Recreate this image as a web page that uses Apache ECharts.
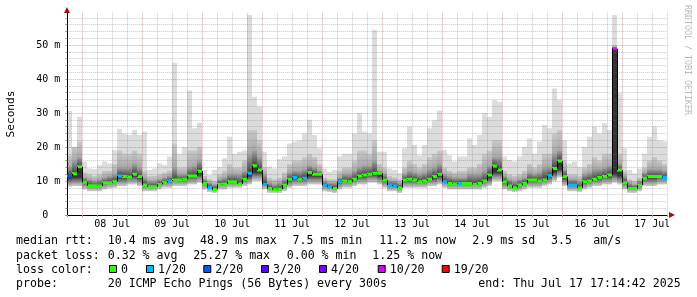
<!DOCTYPE html>
<html><head><meta charset="utf-8">
<script src="https://cdn.jsdelivr.net/npm/echarts@6/dist/echarts.min.js"></script>
<style>html,body{margin:0;padding:0;background:#fff}#c{width:697px;height:297px}</style>
</head><body><div id="c"></div>
<script>
// hours counted from Jul 7 00:00; one bin = 2 hours
const startHour = 18;
const binHours = 2;
const dayLabels = ['08 Jul','09 Jul','10 Jul','11 Jul','12 Jul','13 Jul','14 Jul','15 Jul','16 Jul','17 Jul'];
const yTickLabels = ['0  ','10 m','20 m','30 m','40 m','50 m'];

const medianRtt = [
  11.5, 12.1, 14.2,
  9.6, 8.6, 8.6, 8.5, 9.5, 9.5, 9.8, 11.5, 11.3, 11.2, 12.0, 11.3,
  8.8, 8.3, 8.3, 9.0, 9.6, 10.0, 10.3, 10.3, 10.5, 11.5, 11.5, 12.9,
  9.3, 8.1, 7.5, 9.0, 9.1, 9.8, 9.8, 9.1, 10.5, 12.3, 14.5, 13.2,
  9.0, 7.8, 7.4, 7.6, 8.8, 10.5, 11.0, 10.5, 10.8, 12.5, 12.0, 12.0,
  8.8, 8.3, 7.8, 9.8, 10.0, 9.8, 10.5, 11.5, 11.8, 12.0, 12.3, 12.3,
  10.3, 8.8, 8.5, 8.0, 10.3, 10.5, 10.3, 9.8, 10.0, 10.5, 11.3, 12.0,
  9.8, 9.3, 9.1, 9.3, 9.3, 9.3, 9.0, 9.3, 10.0, 11.8, 14.4, 13.2,
  9.8, 8.5, 8.0, 8.8, 9.3, 10.3, 10.3, 10.0, 10.3, 11.6, 13.7, 15.9,
  11.3, 8.8, 8.8, 8.0, 9.8, 10.0, 10.5, 11.0, 11.3, 11.8, 48.9, 13.2,
  9.5, 7.8, 7.8, 8.8, 10.8, 11.3, 11.3, 11.3, 11.0
];
const lossCount = [
  2, 0, 0,
  0, 0, 0, 0, 0, 0, 0, 1, 0, 0, 0, 0,
  0, 0, 0, 0, 0, 1, 0, 0, 0, 0, 0, 0,
  0, 1, 0, 0, 0, 0, 0, 0, 0, 1, 0, 0,
  1, 0, 0, 0, 0, 0, 1, 0, 1, 0, 0, 0,
  1, 1, 0, 1, 0, 0, 0, 0, 0, 0, 0, 0,
  0, 1, 1, 0, 0, 0, 0, 0, 0, 0, 0, 0,
  1, 0, 0, 1, 0, 0, 0, 0, 0, 0, 0, 0,
  0, 0, 0, 0, 0, 0, 0, 0, 0, 1, 0, 0,
  0, 1, 1, 0, 0, 0, 0, 0, 0, 0, 10, 0,
  0, 0, 0, 0, 0, 0, 0, 0, 1
];
const smokeLow = [
  8.3, 8.5, 8.5,
  7.5, 7, 7, 7, 7.5, 7.8, 8, 8.5, 8.5, 9, 9, 8.5,
  7, 7, 7, 7.5, 8, 8, 8.5, 8.5, 8.5, 9, 9, 9.5,
  7.5, 6.8, 6.5, 7.5, 7.5, 8, 8, 8, 8.5, 9, 10, 10,
  7.5, 6.5, 6.5, 6.5, 7, 8, 8.5, 8.5, 8.5, 9, 9, 9,
  7, 6.8, 6.5, 7.5, 8, 8, 8.5, 9, 9, 9.5, 9.5, 9,
  8, 7, 7, 6.5, 8, 8, 8, 8, 8, 8.5, 8.5, 9,
  8, 7.5, 7.5, 7.5, 7.5, 7.5, 7.5, 7.5, 8, 8.5, 10, 10,
  7.5, 7, 6.8, 7, 7.5, 8, 8, 8, 8.5, 9, 10, 11,
  8.5, 7, 7, 6.8, 7.5, 8, 8.5, 8.5, 9, 9, 9.5, 9,
  7.5, 6.5, 6.5, 7, 8.5, 8.5, 8.5, 9, 9
];
const smokeDark = [
  14.2, 16, 17,
  11, 10.5, 10, 10.5, 11, 11.5, 12, 14, 14, 14, 15, 14,
  11, 10, 10, 10.5, 11, 11.5, 14, 12, 12, 14, 14.5, 16,
  10.5, 9.5, 9, 10.5, 11, 12, 12, 12, 13, 18, 19, 17,
  12, 9.5, 9, 9.5, 10.5, 12.5, 13, 13, 13.5, 14.5, 14, 13,
  10, 9.5, 9.5, 11, 12, 12, 13, 14, 14.5, 14.5, 16, 13,
  12, 10, 10, 9.5, 12, 13, 12.5, 12, 12.5, 13.5, 14, 15,
  12, 11.5, 11, 11, 11, 12, 12, 12, 13, 14.5, 17, 17,
  11.5, 10.5, 10, 10.5, 11, 12.5, 12, 12.5, 14, 14, 18, 19,
  13.5, 10.5, 10.5, 10, 12, 12.5, 13.5, 13.5, 14, 14.5, 49.2, 15,
  11.5, 9.5, 9, 10, 12.5, 13.5, 13.5, 13.5, 13
];
const smokeMid = [
  17.6, 20, 21.6,
  12.5, 12, 11.5, 12, 13, 13, 15, 19, 18, 18, 19, 18,
  13, 11.5, 11.5, 12, 12.5, 13, 21, 14, 14, 19, 19, 20,
  11.5, 10.5, 10, 12, 13, 15, 14, 14, 16, 25, 25, 22,
  14, 11, 10.5, 11, 12.5, 15, 16, 16, 17, 18, 17, 15,
  11, 10.5, 10.5, 13, 14, 14, 16, 19, 19, 18, 22, 15,
  14, 11.5, 11, 10.5, 14, 16, 15, 14, 15, 17, 18, 19,
  14, 13, 12.5, 13, 13, 14, 14, 15, 18, 19, 22, 22,
  13, 12, 11.5, 12, 13, 15, 14, 15, 18, 18, 24, 25,
  16, 12, 12, 11.5, 14, 15, 17, 16, 18, 18, 50, 18,
  13, 10.5, 10, 11, 14, 16, 17, 16, 15
];
const smokeMax = [
  30.6, 18, 28.9,
  15.7, 13.7, 13.5, 14.7, 15.7, 15.2, 19.1, 25.3, 24, 23.5, 25, 23.5,
  24.5, 13.2, 13.7, 15.2, 14.7, 17.2, 44.8, 18, 20, 36.6, 25.5, 27.2,
  13.2, 11.8, 13.2, 14.2, 16.7, 23, 18, 18.6, 19, 58.8, 34.8, 31.9,
  18.6, 14.2, 13.7, 16.4, 17.2, 21, 21.6, 22, 24, 28, 23.5, 19.6,
  13.7, 12.7, 13.2, 17.2, 18, 18, 24, 29.9, 24.5, 24, 54.4, 18.6,
  18.6, 13.7, 13.2, 12.3, 19.6, 26, 20.6, 17.6, 20.6, 25.5, 27.9, 30.7,
  19.1, 17.6, 15.7, 17.2, 17.2, 22.5, 20.6, 23.5, 29.9, 28.9, 33.8, 33.3,
  17.2, 16.2, 15.7, 17.2, 20, 22.5, 18, 21.6, 26.5, 25.5, 37.2, 33.8,
  22, 15.2, 15.7, 14.2, 20, 23, 26, 24, 27, 25, 58.8, 35.8,
  19.6, 13.2, 12.3, 13.7, 18, 23, 26, 22, 21.6
];
const lossLevels = [0, 1, 2, 3, 4, 10, 19];
const lossLabels = ['0', '1/20', '2/20', '3/20', '4/20', '10/20', '19/20'];
const lossColors = ['#26ff00', '#00b8ff', '#0059ff', '#5e00ff', '#7e00ff', '#dd00ff', '#ff0000'];

const statLine1 = [['median rtt:',16],['10.4 ms avg',107.7],['48.9 ms max',200],['7.5 ms min',292.5],['11.2 ms now',379.3],['2.9 ms sd',472.3],['3.5',551],['am/s',593.3]];
const statLine2 = [['packet loss:',16],['0.32 % avg',107.7],['25.27 % max',193.3],['0.00 % min',286.7],['1.25 % now',372.3]];
const probeLine = [['probe:',16],['20 ICMP Echo Pings (56 Bytes) every 300s',107.7],['end: Thu Jul 17 17:14:42 2025',478.3]];
const swatchX = [109, 146, 203.3, 261, 319, 377.7, 441.7];

function lossColor(n){ let c = lossColors[0]; for (let k=0;k<lossLevels.length;k++){ if (n>=lossLevels[k]) c = lossColors[k]; } return c; }

const smokeData = medianRtt.map((m,i)=>[startHour+i*binHours, startHour+(i+1)*binHours, smokeLow[i], m, smokeDark[i], smokeMid[i], smokeMax[i]]);
const medianData = medianRtt.map((m,i)=>[startHour+i*binHours, startHour+(i+1)*binHours, m, i>0?medianRtt[i-1]:m, lossCount[i]]);

function grad(y1, y2, stops){
  if (Math.abs(y2-y1) < 0.5) y2 = y1 - 0.5;
  return {type:'linear', x:0, y:y1, x2:0, y2:y2, global:true, colorStops: stops.map(s=>({offset:s[0], color:s[1]}))};
}
function renderSmoke(params, api){
  const x0 = Math.round(api.coord([api.value(0),0])[0]);
  const x1 = Math.round(api.coord([api.value(1),0])[0]);
  const Y = v => api.coord([api.value(0), v])[1];
  const lo=Y(api.value(2)), me=Y(api.value(3)), dk=Y(api.value(4)), md=Y(api.value(5)), mx=Y(api.value(6));
  const w = x1-x0;
  const rect = (a,b,fill)=>({type:'rect', shape:{x:x0, y:Math.min(a,b), width:w, height:Math.abs(b-a)}, style:{fill:fill}});
  return {type:'group', children:[
    rect(mx, me, '#dcdcdc'),
    rect(md, me, grad(dk, md, [[0,'#a8a8a8'],[1,'#c8c8c8']])),
    rect(dk, me, grad(me, dk, [[0,'#404040'],[1,'#a4a4a4']])),
    rect(me, lo, grad(lo, lo-9, [[0,'#d0d0d0'],[0.5,'#909090'],[1,'#343434']]))
  ]};
}
function renderMedian(params, api){
  const x0 = Math.round(api.coord([api.value(0),0])[0]);
  const x1 = Math.round(api.coord([api.value(1),0])[0]);
  const Y = v => api.coord([api.value(0), v])[1];
  const ym = Y(api.value(2)), yp = Y(api.value(3));
  return {type:'group', children:[
    {type:'rect', shape:{x:x0, y:ym-1.5, width:x1-x0, height:3}, style:{fill: lossColor(api.value(4))}},
    {type:'line', shape:{x1:x0+0.5, y1:yp, x2:x0+0.5, y2:ym}, style:{stroke:'#000', lineWidth:1}}
  ]};
}

const mono = '"DejaVu Sans Mono", monospace';
const gfx = [];
gfx.push({type:'text', x:11, y:114, rotation:Math.PI/2, style:{text:'Seconds', font:'11.2px '+mono, fill:'#000', align:'center', verticalAlign:'middle'}});
gfx.push({type:'text', x:687, y:60, rotation:-Math.PI/2, style:{text:'RRDTOOL / TOBI OETIKER', font:'8.3px '+mono, fill:'#b8b8b8', align:'center', verticalAlign:'middle'}});
gfx.push({type:'polygon', shape:{points:[[67,7],[64,13],[70,13]]}, style:{fill:'#a01010'}});
gfx.push({type:'polygon', shape:{points:[[675,215],[669,212],[669,218]]}, style:{fill:'#a01010'}});
const addLine = (items, y) => items.forEach(t => gfx.push({type:'text', x:t[1], y:y, style:{text:t[0], font:'11.6px '+mono, fill:'#000', align:'left', verticalAlign:'middle'}}));
addLine(statLine1, 241);
addLine(statLine2, 255.5);
addLine([['loss color:',16]], 269.5);
lossLabels.forEach((l,k)=>{
  gfx.push({type:'rect', shape:{x:swatchX[k]+0.5, y:265.5, width:7, height:7}, style:{fill:lossColors[k], stroke:'#000', lineWidth:1}});
  gfx.push({type:'text', x:swatchX[k]+12, y:269.5, style:{text:l, font:'11.6px '+mono, fill:'#000', align:'left', verticalAlign:'middle'}});
});
addLine(probeLine, 283.7);

const gridGrey = 'rgba(120,120,120,0.42)';
const gridRed = 'rgba(230,40,40,0.45)';
const chart = echarts.init(document.getElementById('c'), null, {renderer:'canvas'});
chart.setOption({
  animation:false,
  backgroundColor:'#ffffff',
  grid:{left:67.3, right:29.7, top:12.7, bottom:82, containLabel:false},
  xAxis:{type:'value', min:18, max:258, interval:6, z:3,
    axisLine:{lineStyle:{color:'#000', width:1}},
    axisTick:{show:true, length:2, lineStyle:{color:'#999'}},
    axisLabel:{margin:4, color:'#000', fontFamily:'DejaVu Sans Mono', fontSize:10,
      formatter: v => ((v-12)%24===0 ? dayLabels[(v-36)/24] : '')},
    splitLine:{show:true, lineStyle:{color:[gridGrey, gridRed, gridGrey, gridGrey], type:[1,1], width:1}}
  },
  yAxis:{type:'value', min:0, max:59.5, interval:2, z:3,
    axisLine:{show:true, lineStyle:{color:'#000', width:1}},
    axisTick:{show:true, length:2, lineStyle:{color:'#999'}},
    axisLabel:{margin:7, color:'#000', fontFamily:'DejaVu Sans Mono', fontSize:10, showMaxLabel:false,
      formatter: v => (v%10===0 ? yTickLabels[v/10] : '')},
    splitLine:{show:true, showMaxLine:false, lineStyle:{color:[gridRed, gridGrey, gridGrey, gridGrey, gridGrey], type:[1,1], width:1}}
  },
  series:[
    {type:'custom', z:2, clip:true, renderItem:renderSmoke, encode:{x:[0,1], y:[2,3,4,5,6]}, data:smokeData, silent:true},
    {type:'custom', z:4, clip:true, renderItem:renderMedian, encode:{x:[0,1], y:[2,3]}, data:medianData, silent:true}
  ],
  graphic:{elements:gfx}
});
</script></body></html>
